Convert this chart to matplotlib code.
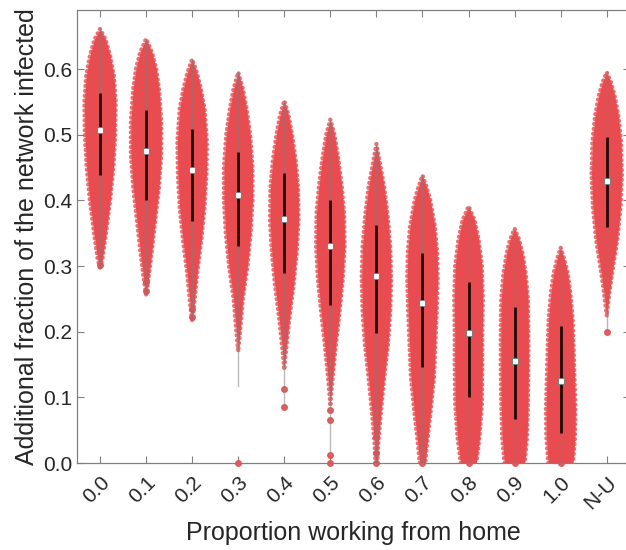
import matplotlib
matplotlib.use("Agg")
import matplotlib.pyplot as plt
import numpy as np

plt.rcParams['font.family'] = ['Liberation Sans', 'DejaVu Sans']

# categories on the x axis
categories = ["0.0", "0.1", "0.2", "0.3", "0.4", "0.5",
              "0.6", "0.7", "0.8", "0.9", "1.0", "N-U"]

# summary statistics
medians = [0.507, 0.475, 0.446, 0.408, 0.371, 0.331,
           0.285, 0.243, 0.198, 0.156, 0.125, 0.430]
q1 = [0.438, 0.401, 0.368, 0.331, 0.290, 0.241,
      0.198, 0.147, 0.100, 0.067, 0.046, 0.359]
q3 = [0.563, 0.537, 0.508, 0.473, 0.441, 0.400,
      0.362, 0.320, 0.276, 0.238, 0.208, 0.496]
whisker_low = [0.300, 0.258, 0.220, 0.118, 0.085, 0.015,
               0.0, 0.0, 0.0, 0.0, 0.0, 0.200]
whisker_high = [0.661, 0.646, 0.615, 0.595, 0.552, 0.523,
                0.486, 0.438, 0.391, 0.357, 0.328, 0.595]

# violin outlines: value levels and half widths (in category units)
levels = [
    [0.298, 0.31, 0.35, 0.40, 0.45, 0.50, 0.55, 0.59, 0.62, 0.645, 0.661],
    [0.257, 0.28, 0.32, 0.37, 0.42, 0.47, 0.52, 0.57, 0.60, 0.625, 0.646],
    [0.218, 0.24, 0.29, 0.34, 0.39, 0.44, 0.49, 0.54, 0.57, 0.595, 0.615],
    [0.172, 0.20, 0.25, 0.30, 0.35, 0.40, 0.45, 0.50, 0.54, 0.57, 0.595],
    [0.145, 0.18, 0.22, 0.27, 0.32, 0.37, 0.42, 0.46, 0.50, 0.53, 0.552],
    [0.090, 0.13, 0.18, 0.23, 0.28, 0.33, 0.38, 0.42, 0.46, 0.50, 0.523],
    [0.0, 0.03, 0.08, 0.13, 0.18, 0.23, 0.28, 0.33, 0.38, 0.42, 0.455, 0.486],
    [0.0, 0.03, 0.08, 0.13, 0.18, 0.23, 0.28, 0.32, 0.36, 0.40, 0.42, 0.438],
    [0.0, 0.04, 0.09, 0.15, 0.20, 0.25, 0.30, 0.34, 0.37, 0.391],
    [0.0, 0.04, 0.09, 0.15, 0.20, 0.25, 0.29, 0.32, 0.34, 0.357],
    [0.0, 0.04, 0.08, 0.13, 0.18, 0.22, 0.26, 0.29, 0.31, 0.328],
    [0.225, 0.26, 0.30, 0.34, 0.39, 0.44, 0.49, 0.53, 0.56, 0.58, 0.595],
]
half_widths = [
    [0.0, 0.05, 0.13, 0.22, 0.29, 0.33, 0.34, 0.30, 0.22, 0.12, 0.0],
    [0.0, 0.05, 0.12, 0.20, 0.28, 0.33, 0.33, 0.28, 0.22, 0.13, 0.0],
    [0.0, 0.04, 0.11, 0.20, 0.27, 0.31, 0.32, 0.27, 0.19, 0.10, 0.0],
    [0.0, 0.04, 0.10, 0.20, 0.27, 0.31, 0.31, 0.26, 0.18, 0.10, 0.0],
    [0.0, 0.05, 0.11, 0.20, 0.27, 0.31, 0.30, 0.25, 0.17, 0.09, 0.0],
    [0.0, 0.05, 0.12, 0.20, 0.27, 0.31, 0.30, 0.25, 0.18, 0.09, 0.0],
    [0.02, 0.04, 0.10, 0.17, 0.25, 0.30, 0.32, 0.30, 0.24, 0.17, 0.08, 0.0],
    [0.06, 0.10, 0.18, 0.25, 0.28, 0.31, 0.33, 0.32, 0.27, 0.17, 0.09, 0.0],
    [0.17, 0.24, 0.29, 0.30, 0.30, 0.31, 0.29, 0.22, 0.13, 0.0],
    [0.22, 0.27, 0.29, 0.30, 0.30, 0.29, 0.24, 0.17, 0.10, 0.0],
    [0.27, 0.31, 0.32, 0.30, 0.28, 0.26, 0.21, 0.15, 0.08, 0.0],
    [0.0, 0.06, 0.14, 0.23, 0.30, 0.33, 0.31, 0.25, 0.17, 0.09, 0.0],
]

# single data points lying outside the violin bodies
outliers = [
    [0.302], [0.262, 0.275], [0.222, 0.235], [0.0],
    [0.113, 0.085], [0.081, 0.066, 0.012, 0.0],
    [0.04, 0.015, 0.0], [0.02, 0.0], [0.0], [0.0], [0.0], [0.2],
]

red = "#e84c50"
positions = np.arange(1, len(categories) + 1)

fig = plt.figure(figsize=(6.26, 5.5), dpi=100)
ax = fig.add_axes([0.123, 0.158, 0.883, 0.824])

for i, x in enumerate(positions):
    y = np.array(levels[i])
    w = np.array(half_widths[i])
    ax.fill_betweenx(y, x - w, x + w, color=red, lw=0, zorder=2)
    # dotted edge imitating the scattered data points
    ex = np.concatenate([x - w, (x + w)[::-1]])
    ey = np.concatenate([y, y[::-1]])
    ax.plot(ex, ey, color=red, alpha=0.8, lw=3.2,
            linestyle=(0, (0.01, 1.1)), dash_capstyle='round', zorder=2)
    # whisker
    ax.plot([x, x], [whisker_low[i], whisker_high[i]], color="#7f7f7f",
            lw=1.0, alpha=0.55, zorder=3)
    # interquartile bar
    ax.plot([x, x], [q1[i], q3[i]], color="#200808", lw=2.0,
            solid_capstyle='butt', zorder=4)
    # median
    ax.plot(x, medians[i], marker='s', ms=5, mfc="white",
            mec="#808080", mew=0.8, zorder=5)
    ax.plot([x] * len(outliers[i]), outliers[i], 'o', color=red, ms=4,
            alpha=0.9, zorder=2, clip_on=False)

ax.set_xlim(0.5, 12.5)
ax.set_ylim(0, 0.69)
ax.set_xticks(positions)
ax.set_xticklabels(categories, rotation=45, ha='right', va='top',
                   rotation_mode='anchor', fontsize=15, color="#262626")
ax.set_yticks(np.arange(0, 0.61, 0.1))
ax.set_yticklabels([f"{v:.1f}" for v in np.arange(0, 0.61, 0.1)],
                   fontsize=15, color="#262626")
ax.tick_params(direction='in', length=5, width=0.8, color="#808080",
               top=True, right=True)
ax.tick_params(axis='x', pad=7)
for s in ax.spines.values():
    s.set_color("#808080")
    s.set_linewidth(0.9)

ax.set_xlabel("Proportion working from home", fontsize=18, color="#262626",
              labelpad=6)
ax.set_ylabel("Additional fraction of the network infected", fontsize=18,
              color="#262626", labelpad=3)

fig.savefig("out.png", dpi=100)
